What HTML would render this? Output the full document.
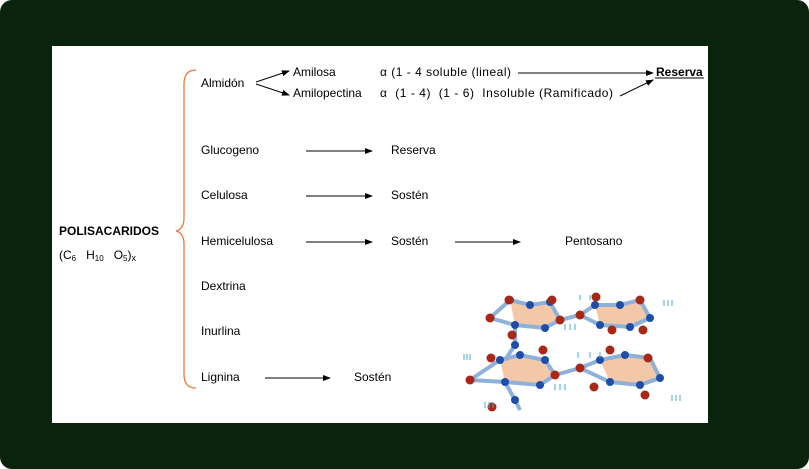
<!DOCTYPE html>
<html><head><meta charset="utf-8"><style>
html,body{margin:0;padding:0;background:#fff}
svg{display:block}
text{font-family:"Liberation Sans",sans-serif;font-size:12px;fill:#000;white-space:pre}
</style></head><body>
<svg width="809" height="469" viewBox="0 0 809 469" xmlns="http://www.w3.org/2000/svg" xml:space="preserve">
<defs>
<marker id="a" markerWidth="8" markerHeight="6" refX="7" refY="3" orient="auto" markerUnits="userSpaceOnUse"><path d="M0,0 L8,3 L0,6 z" fill="#000"/></marker>
</defs>
<rect x="0" y="0" width="809" height="469" rx="12" fill="#0a230c"/>
<rect x="52" y="46" width="656" height="377" fill="#fff"/>
<path d="M196,70 Q184,70 184,84 L184,218 Q184,229 176,231 Q184,233 184,244 L184,374 Q184,388 196,388" fill="none" stroke="#f07a3a" stroke-width="1.3"/>
<text x="59" y="235" font-weight="bold">POLISACARIDOS</text>
<text x="59" y="259">(C<tspan font-size="8" dy="2">6</tspan><tspan dy="-2">   H</tspan><tspan font-size="8" dy="2">10</tspan><tspan dy="-2">   O</tspan><tspan font-size="8" dy="2">5</tspan><tspan dy="-2">)</tspan><tspan font-size="9" dy="2">x</tspan></text>
<text x="201" y="87">Almidón</text>
<line x1="256" y1="82" x2="289" y2="71" stroke="#000" marker-end="url(#a)"/>
<line x1="256" y1="84" x2="289" y2="95" stroke="#000" marker-end="url(#a)"/>
<text x="293" y="76">Amilosa</text>
<text x="293" y="97">Amilopectina</text>
<text x="380" y="76" textLength="131">α (1 - 4 soluble (lineal)</text>
<text x="380" y="97" textLength="233">α  (1 - 4)  (1 - 6)  Insoluble (Ramificado)</text>
<line x1="518" y1="73" x2="653" y2="73" stroke="#000" marker-end="url(#a)"/>
<line x1="620" y1="96" x2="653" y2="80" stroke="#000" marker-end="url(#a)"/>
<text x="656" y="76" font-weight="bold">Reserva</text>
<line x1="655" y1="78" x2="704" y2="78" stroke="#000"/>
<text x="201" y="154">Glucogeno</text>
<line x1="306" y1="151" x2="372" y2="151" stroke="#000" marker-end="url(#a)"/>
<text x="391" y="154">Reserva</text>
<text x="201" y="199">Celulosa</text>
<line x1="306" y1="196" x2="372" y2="196" stroke="#000" marker-end="url(#a)"/>
<text x="391" y="199">Sostén</text>
<text x="201" y="245">Hemicelulosa</text>
<line x1="306" y1="242" x2="372" y2="242" stroke="#000" marker-end="url(#a)"/>
<text x="391" y="245">Sostén</text>
<line x1="455" y1="242" x2="520" y2="242" stroke="#000" marker-end="url(#a)"/>
<text x="565" y="245">Pentosano</text>
<text x="201" y="290">Dextrina</text>
<text x="201" y="335">Inurlina</text>
<text x="201" y="381">Lignina</text>
<line x1="265" y1="378" x2="330" y2="378" stroke="#000" marker-end="url(#a)"/>
<text x="354" y="381">Sostén</text>
<g>
<polygon points="510,300 530,305 550,302 560,320 545,328 515,325" fill="#f3c8a8"/>
<polygon points="595,305 620,305 640,300 650,318 630,327 600,325" fill="#f3c8a8"/>
<polygon points="500,360 520,355 545,360 555,375 540,385 505,382" fill="#f3c8a8"/>
<polygon points="600,360 625,355 650,358 660,378 640,385 610,382" fill="#f3c8a8"/>
<g stroke="#8fb0d8" stroke-width="4" fill="none">
<polyline points="490,318 510,300 530,305 550,302 560,320 545,328 515,325 490,318"/>
<polyline points="560,320 580,315 595,305 620,305 640,300 650,318 630,327 600,325 580,315"/>
<polyline points="470,380 500,360 520,355 545,360 555,375 540,385 505,382 470,380"/>
<polyline points="555,375 580,368 600,360 625,355 650,358 660,378 640,385 610,382 580,368"/>
<polyline points="515,325 515,345 505,360"/>
<polyline points="505,382 515,400 520,410"/>
</g>
<g fill="#1f4ea8">
<circle cx="510" cy="300" r="4"/><circle cx="530" cy="305" r="4"/><circle cx="550" cy="302" r="4"/><circle cx="545" cy="328" r="4"/><circle cx="515" cy="325" r="4"/>
<circle cx="595" cy="305" r="4"/><circle cx="620" cy="305" r="4"/><circle cx="650" cy="318" r="4"/><circle cx="630" cy="327" r="4"/><circle cx="600" cy="325" r="4"/>
<circle cx="500" cy="360" r="4"/><circle cx="520" cy="355" r="4"/><circle cx="545" cy="360" r="4"/><circle cx="540" cy="385" r="4"/><circle cx="505" cy="382" r="4"/>
<circle cx="600" cy="360" r="4"/><circle cx="625" cy="355" r="4"/><circle cx="660" cy="378" r="4"/><circle cx="640" cy="385" r="4"/><circle cx="610" cy="382" r="4"/>
<circle cx="515" cy="400" r="4"/><circle cx="515" cy="345" r="4"/>
</g>
<g fill="#a82818">
<circle cx="490" cy="318" r="4.5"/><circle cx="509" cy="300" r="4.5"/><circle cx="552" cy="300" r="4.5"/><circle cx="560" cy="320" r="4.5"/><circle cx="580" cy="315" r="4.5"/>
<circle cx="640" cy="300" r="4.5"/><circle cx="596" cy="297" r="4.5"/><circle cx="643" cy="330" r="4.5"/><circle cx="612" cy="330" r="4.5"/><circle cx="512" cy="335" r="4.5"/>
<circle cx="470" cy="380" r="4.5"/><circle cx="491" cy="358" r="4.5"/><circle cx="543" cy="350" r="4.5"/><circle cx="555" cy="375" r="4.5"/><circle cx="580" cy="368" r="4.5"/>
<circle cx="648" cy="358" r="4.5"/><circle cx="594" cy="387" r="4.5"/><circle cx="645" cy="395" r="4.5"/><circle cx="492" cy="407" r="4.5"/><circle cx="610" cy="350" r="4.5"/>
</g>
<g stroke="#4aa8c8" stroke-width="1">
<path d="M464,354v6M467,354v6M470,354v6M485,402v6M489,402v6M493,402v6M664,300v6M668,300v6M672,300v6M672,395v6M676,395v6M680,395v6M565,324v6M570,324v6M575,324v6M578,352v6M590,352v6M600,352v6M555,384v6M560,384v6M565,384v6M580,295v5M590,295v5"/>
</g>
</g>
</svg>
</body></html>
